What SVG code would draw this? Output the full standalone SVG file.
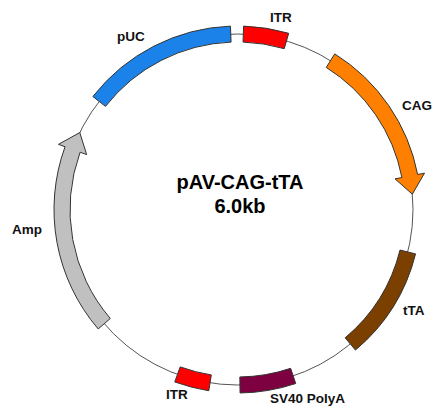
<svg xmlns="http://www.w3.org/2000/svg" width="442" height="416" viewBox="0 0 442 416">
<style>
.feat{stroke:#333;stroke-width:1;stroke-linejoin:miter}
.lbl{font-family:"Liberation Sans",Arial,sans-serif;font-size:13.5px;font-weight:bold;fill:#111}
.title{font-family:"Liberation Sans",Arial,sans-serif;font-size:20px;font-weight:bold;fill:#000;text-anchor:middle}
</style>
<rect width="442" height="416" fill="#fff"/>
<g id="connectors">
<circle cx="237.5" cy="209.5" r="175.5" fill="none" stroke="#555" stroke-width="1"/>
</g>
<g id="pUC">
<path class="feat" fill="#1a82e8" d="M 92.90 96.52 A 183.5 183.5 0 0 1 230.46 26.14 L 231.07 42.12 A 167.5 167.5 0 0 0 105.51 106.37 Z"/>
<text class="lbl" x="117" y="41">pUC</text>
</g>
<g id="ITR-top">
<path class="feat" fill="#ff0000" d="M 243.58 26.10 A 183.5 183.5 0 0 1 288.69 33.29 L 284.23 48.65 A 167.5 167.5 0 0 0 243.05 42.09 Z"/>
<text class="lbl" x="270" y="22">ITR</text>
</g>
<g id="CAG">
<path class="feat" fill="#ff8000" d="M 334.74 53.88 A 183.5 183.5 0 0 1 417.63 174.49 L 424.50 173.15 L 412.33 194.20 L 395.05 178.87 L 401.92 177.54 A 167.5 167.5 0 0 0 326.26 67.45 Z"/>
<text class="lbl" x="402" y="110">CAG</text>
</g>
<g id="tTA">
<path class="feat" fill="#7b3f00" d="M 415.55 253.89 A 183.5 183.5 0 0 1 355.45 350.07 L 345.17 337.81 A 167.5 167.5 0 0 0 400.03 250.02 Z"/>
<text class="lbl" x="403" y="315">tTA</text>
</g>
<g id="SV40-PolyA">
<path class="feat" fill="#7d0040" d="M 295.72 383.52 A 183.5 183.5 0 0 1 240.06 392.98 L 239.84 376.98 A 167.5 167.5 0 0 0 290.65 368.34 Z"/>
<text class="lbl" x="270" y="403">SV40 PolyA</text>
</g>
<g id="ITR-bottom">
<path class="feat" fill="#ff0000" d="M 208.79 390.74 A 183.5 183.5 0 0 1 174.74 381.93 L 180.21 366.90 A 167.5 167.5 0 0 0 211.30 374.94 Z"/>
<text class="lbl" x="166" y="399">ITR</text>
</g>
<g id="Amp">
<path class="feat" fill="#c0c0c0" d="M 98.17 328.92 A 183.5 183.5 0 0 1 65.07 146.74 L 58.49 144.35 L 79.76 132.57 L 86.68 154.61 L 80.10 152.21 A 167.5 167.5 0 0 0 110.32 318.50 Z"/>
<text class="lbl" x="12" y="234">Amp</text>
</g>
<g id="title">
<text class="title" x="240" y="189">pAV-CAG-tTA</text>
<text class="title" x="240" y="213">6.0kb</text>
</g>
</svg>
